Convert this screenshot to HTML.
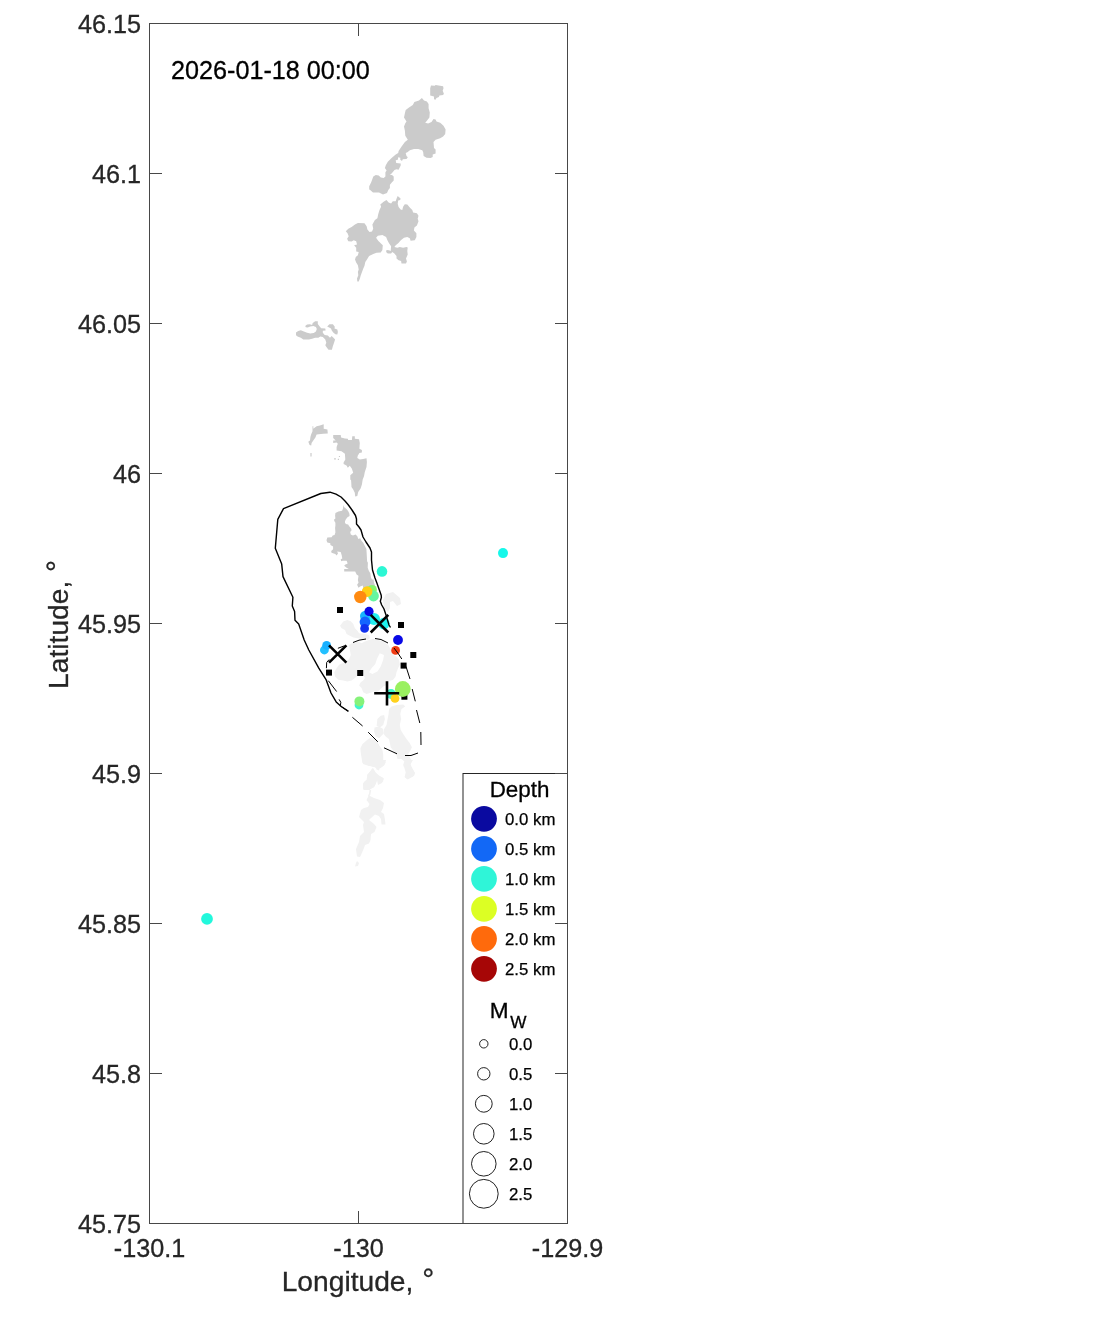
<!DOCTYPE html>
<html lang="en"><head><meta charset="utf-8"><title>Seismicity map</title>
<style>
html,body{margin:0;padding:0;background:#fff;}
body{width:1111px;height:1324px;overflow:hidden;}
svg{display:block;opacity:0.9999;will-change:transform;}
text{font-family:"Liberation Sans",Arial,Helvetica,sans-serif;}
.tl{font-size:25.2px;fill:#262626;stroke:#262626;stroke-width:0.3px;}
.al{font-size:28.2px;fill:#262626;stroke:#262626;stroke-width:0.3px;}
.lg{font-size:16.8px;fill:#000;stroke:#000;stroke-width:0.25px;}
.lt{font-size:22.4px;fill:#000;stroke:#000;stroke-width:0.3px;}
</style></head><body>
<svg width="1111" height="1324" viewBox="0 0 1111 1324">
<rect x="0" y="0" width="1111" height="1324" fill="#ffffff"/>
<g fill="#f1f1f1" stroke="none">
<path d="M386.0,594.0 L393.0,592.0 L400.0,598.0 L401.0,604.0 L397.0,606.0 L393.0,601.0 L390.0,602.0 L390.0,608.0 L388.0,612.0 L384.0,608.0 L383.0,600.0Z"/>
<path d="M340.0,625.8 L343.3,621.6 L347.4,620.0 L350.8,621.2 L353.3,624.1 L354.9,628.3 L357.4,630.8 L359.1,633.3 L364.9,634.1 L369.0,634.9 L369.9,638.2 L367.4,639.9 L363.2,639.1 L357.4,638.2 L353.3,637.4 L349.9,635.8 L346.6,634.1 L345.0,629.9 L341.6,628.3Z"/>
<path d="M349.1,644.9 L351.6,643.2 L354.9,642.4 L358.2,641.6 L361.6,643.2 L364.9,641.6 L369.0,639.9 L373.2,639.1 L378.2,639.9 L383.2,641.6 L388.2,644.9 L390.6,649.0 L393.1,654.9 L396.5,656.5 L399.0,659.8 L399.8,664.8 L398.1,668.2 L396.5,672.3 L395.6,676.5 L393.1,679.8 L388.2,681.5 L387.3,684.8 L383.2,686.4 L379.8,689.8 L376.5,692.3 L374.0,691.4 L369.9,693.1 L366.6,693.9 L363.2,692.3 L361.6,688.1 L359.1,685.6 L360.7,682.3 L363.2,680.6 L364.9,678.1 L363.2,674.8 L357.4,675.6 L354.9,678.1 L351.6,680.6 L347.4,681.5 L343.3,680.6 L338.3,679.8 L335.0,676.5 L334.2,672.3 L336.6,668.2 L339.1,664.8 L342.5,663.2 L346.6,661.5 L349.1,659.0 L350.8,654.9 L349.9,649.9Z"/>
<path d="M389.0,709.1 L391.5,706.6 L396.5,705.0 L403.2,704.5 L405.2,706.6 L401.5,709.1 L400.3,714.1 L401.1,719.1 L399.8,724.9 L400.7,729.9 L403.2,734.0 L406.5,739.0 L409.8,743.2 L411.9,747.3 L409.8,751.5 L408.2,754.0 L409.8,757.3 L411.5,760.6 L410.6,764.8 L412.7,768.9 L414.8,773.1 L413.1,776.4 L408.2,779.3 L404.8,777.2 L405.7,772.3 L404.4,768.1 L403.2,764.8 L404.4,761.5 L401.5,759.0 L397.4,759.0 L396.5,754.8 L394.0,751.5 L390.7,747.3 L389.9,743.2 L389.0,739.0 L385.7,736.5 L383.2,733.2 L384.1,729.0 L386.6,724.9 L387.4,719.9 L388.6,714.1Z"/>
<path d="M377.4,719.1 L380.7,715.8 L384.1,714.9 L384.9,719.1 L383.2,724.9 L379.9,727.4 L376.6,725.7Z"/>
<path d="M374.5,727.4 L379.1,726.6 L383.2,729.0 L383.2,734.0 L379.1,738.2 L375.8,736.5 L374.1,731.5Z"/>
<path d="M360.4,748.2 L362.5,744.0 L367.4,739.8 L370.8,737.4 L374.1,739.0 L377.4,742.3 L379.9,746.5 L382.4,749.8 L383.2,754.8 L383.2,760.6 L385.7,762.3 L384.1,765.6 L380.7,768.1 L377.4,768.9 L374.9,767.3 L371.6,766.4 L366.6,764.8 L362.5,763.1 L361.6,758.1 L360.8,753.1Z"/>
<path d="M372.4,768.1 L374.9,772.3 L379.1,775.6 L383.2,778.1 L383.2,781.4 L379.9,782.2 L377.4,779.7 L375.8,783.9 L374.1,787.2 L370.8,788.9 L366.6,789.7 L363.3,788.9 L363.3,783.1 L366.6,779.7 L367.4,774.7 L370.8,770.6Z"/>
<path d="M362.0,760.0 L386.0,760.0 L385.0,764.0 L380.0,767.0 L379.0,770.5 L376.5,769.5 L375.5,766.5 L369.0,766.0 L363.0,764.0Z"/>
<path d="M373.0,768.0 L376.0,773.0 L379.0,776.0 L384.0,778.5 L382.0,783.0 L378.0,785.0 L377.0,780.0 L374.0,779.0 L372.0,785.0 L370.0,790.0 L363.5,790.0 L363.0,784.0 L365.0,781.0 L369.0,779.0 L367.0,775.0 L370.0,772.0Z"/>
<path d="M369.0,795.5 L374.0,798.0 L380.0,800.0 L384.0,803.0 L383.0,808.0 L381.0,812.0 L384.0,814.0 L385.0,820.0 L385.5,824.5 L381.5,824.5 L381.0,819.0 L379.0,816.0 L375.0,814.5 L371.0,818.0 L369.0,820.0 L374.0,824.0 L376.5,827.0 L374.5,832.0 L371.0,834.0 L370.5,840.0 L369.0,843.5 L365.0,845.0 L364.0,848.0 L361.0,855.0 L360.0,857.0 L357.0,856.5 L356.0,849.0 L359.0,842.0 L360.0,836.0 L364.0,832.0 L363.0,825.0 L364.0,822.0 L361.0,819.0 L359.0,817.0 L361.0,810.0 L364.0,808.0 L368.0,807.0 L369.5,804.0 L366.5,800.0 L368.0,797.0Z"/>
<path d="M357.0,861.0 L359.0,863.0 L358.0,866.0 L355.0,866.5 L356.0,863.0Z"/>
<path d="M405.0,760.0 L413.0,760.0 L410.0,765.0 L413.0,770.0 L415.0,773.0 L414.0,776.0 L410.0,777.0 L407.5,779.5 L404.5,777.0 L406.0,773.0 L406.0,768.0 L403.5,766.0Z"/>
<path d="M369.5,789.9 L371.2,789.9 L370.3,794.9 L369.1,796.6 L367.8,796.6 L369.1,793.3Z"/>
</g>
<g fill="#fff" stroke="none">
<path d="M379.8,653.2 L384.0,654.9 L383.2,659.8 L380.7,666.5 L377.4,671.5 L372.4,674.0 L369.0,672.3 L371.5,668.2 L375.3,664.0 L376.9,659.0Z"/>
</g>
<g fill="#cbcbcb" stroke="none">
<path d="M431.0,85.4 L434.8,85.8 L435.6,85.0 L443.1,86.2 L443.5,88.3 L442.7,90.8 L443.9,93.7 L443.1,95.0 L439.4,95.4 L438.9,97.0 L436.5,97.9 L435.2,99.9 L434.0,99.1 L434.0,96.6 L430.2,95.4 L430.2,88.3Z"/>
<path d="M421.9,98.1 L424.0,100.4 L426.9,101.6 L428.6,104.1 L428.6,108.2 L429.8,112.4 L429.4,117.4 L426.9,120.7 L425.2,122.8 L428.1,123.6 L431.5,122.0 L433.5,119.0 L435.6,119.5 L436.5,121.5 L440.2,122.8 L443.5,125.7 L445.6,129.4 L445.2,134.0 L443.1,136.5 L440.2,138.2 L435.6,139.8 L433.5,141.9 L434.0,148.1 L435.6,149.4 L435.6,153.5 L432.7,154.4 L432.7,156.9 L430.6,158.1 L426.5,157.7 L423.6,156.0 L423.2,152.3 L422.3,150.2 L418.2,149.0 L414.0,149.0 L409.9,150.2 L407.4,152.3 L405.7,153.1 L406.5,156.0 L407.8,157.3 L406.5,158.9 L402.8,159.3 L402.0,161.0 L400.3,159.8 L400.3,157.7 L398.2,157.3 L397.8,159.8 L395.7,160.2 L396.2,163.1 L400.7,163.5 L400.7,165.6 L398.6,169.7 L396.6,169.3 L394.5,170.1 L391.6,173.5 L389.9,174.7 L392.0,175.1 L393.7,176.4 L393.7,180.5 L392.0,182.2 L389.9,184.7 L389.9,188.0 L388.3,190.0 L387.0,193.0 L383.0,194.4 L379.0,192.4 L373.0,192.4 L369.6,189.5 L369.2,190.0 L369.2,186.3 L371.2,182.2 L373.3,176.4 L375.8,175.1 L378.7,175.5 L380.8,177.6 L383.7,178.0 L385.4,176.4 L385.4,172.2 L386.6,170.6 L384.9,168.1 L385.8,165.2 L387.8,161.8 L391.6,158.1 L395.7,154.4 L398.2,153.1 L398.6,151.0 L401.6,146.5 L404.9,141.9 L407.8,139.8 L405.3,135.7 L404.9,130.7 L404.0,126.5 L405.3,123.2 L406.5,121.5 L404.0,117.4 L404.9,113.2 L405.7,109.9 L409.0,107.4 L412.8,104.9 L414.4,102.0 L419.0,100.4Z"/>
<path d="M397.7,195.9 L400.6,198.4 L400.2,200.0 L398.2,200.5 L397.7,203.8 L398.6,207.1 L400.6,209.6 L402.3,210.0 L403.1,206.7 L404.8,204.2 L407.3,204.6 L410.2,207.9 L412.3,210.0 L413.1,212.5 L416.9,213.3 L418.5,215.8 L417.7,218.7 L418.5,221.2 L416.9,225.4 L414.4,227.5 L413.9,230.4 L416.4,233.3 L416.4,237.0 L414.8,240.3 L410.6,240.8 L409.8,238.3 L407.3,237.0 L404.0,237.8 L401.1,239.9 L398.2,243.2 L395.7,245.3 L394.4,247.0 L397.3,247.8 L399.8,247.0 L403.1,247.8 L406.5,247.0 L407.7,247.4 L407.3,251.1 L407.7,254.5 L406.0,258.6 L406.9,261.5 L406.0,263.6 L401.5,263.6 L401.1,261.1 L398.6,260.3 L396.5,258.6 L396.5,256.1 L394.4,253.6 L392.3,252.0 L391.1,253.6 L387.8,253.6 L386.1,252.0 L386.5,249.9 L389.0,250.3 L390.7,251.1 L391.1,246.2 L389.0,243.2 L387.4,240.3 L386.1,237.0 L382.4,234.9 L377.8,235.8 L376.1,237.8 L378.2,240.8 L380.7,243.2 L382.8,245.3 L382.4,249.9 L380.7,252.4 L376.6,252.8 L373.2,254.0 L369.1,256.1 L367.0,259.5 L365.3,261.9 L364.5,265.7 L363.3,268.6 L362.0,271.9 L360.8,275.2 L359.9,278.6 L358.7,281.5 L357.3,281.5 L357.0,278.6 L358.3,275.2 L357.9,271.9 L358.7,269.4 L357.9,265.3 L356.2,262.4 L355.0,259.5 L355.8,257.0 L357.9,255.3 L358.7,252.0 L356.2,251.6 L356.2,247.8 L354.1,245.3 L357.0,244.5 L356.2,241.2 L353.7,240.3 L351.6,241.6 L348.3,241.2 L347.1,238.7 L348.7,236.2 L347.5,233.3 L345.8,231.2 L348.3,228.7 L351.6,227.0 L355.0,224.6 L357.9,222.9 L364.5,223.3 L366.6,226.2 L367.4,229.5 L369.5,232.0 L372.0,231.6 L373.2,228.7 L372.4,224.6 L374.9,220.0 L377.4,218.3 L378.2,214.2 L379.5,210.0 L381.1,206.7 L380.3,204.6 L383.6,201.7 L386.5,200.0 L388.6,202.5 L391.1,203.4 L392.8,201.3 L395.7,201.3 L396.5,198.8Z"/>
<path d="M296.0,332.4 L298.2,331.1 L300.8,330.2 L303.9,331.4 L307.1,332.7 L310.2,333.6 L313.7,333.0 L315.9,331.4 L316.8,328.9 L315.9,327.0 L313.4,326.1 L310.2,326.4 L307.7,327.6 L305.8,327.3 L305.2,326.1 L307.1,324.5 L309.9,324.2 L312.1,325.1 L312.7,322.9 L315.2,321.3 L317.8,321.3 L317.8,323.9 L319.7,326.4 L321.2,328.3 L325.3,328.6 L325.6,330.5 L322.8,330.8 L322.8,332.7 L324.7,334.9 L327.8,335.5 L330.0,337.7 L331.6,336.1 L333.5,337.7 L335.1,339.6 L333.8,343.4 L332.9,345.9 L331.9,349.7 L328.5,349.7 L326.6,347.2 L325.3,345.3 L326.3,342.8 L325.3,339.6 L322.8,337.1 L320.3,336.5 L318.4,337.7 L315.2,337.7 L312.1,338.7 L308.9,339.6 L303.3,339.6 L300.8,337.7 L297.6,336.5 L296.0,335.2Z"/>
<path d="M327.2,326.4 L329.4,324.2 L332.9,324.2 L334.8,326.7 L334.5,328.6 L337.3,329.5 L337.9,332.1 L337.3,334.6 L335.4,334.3 L333.5,332.7 L331.9,330.8 L331.0,328.6 L329.1,327.6Z"/>
<path d="M312.5,426.3 L313.3,426.3 L313.3,428.8 L316.6,426.3 L319.9,425.5 L323.7,424.2 L323.7,428.8 L327.4,429.6 L327.8,433.4 L323.3,433.8 L318.7,434.2 L316.6,434.6 L315.4,437.5 L313.3,440.4 L311.6,442.9 L311.2,445.4 L309.6,445.0 L308.3,441.7 L310.0,440.4 L310.4,437.1 L311.2,434.2 L312.5,431.3Z"/>
<path d="M310.4,452.9 L311.6,452.9 L311.6,456.6 L310.4,456.6Z"/>
<path d="M334.1,458.3 L335.9,458.3 L335.9,459.5 L334.1,459.5Z"/>
<path d="M337.8,458.7 L339.0,458.7 L339.0,460.0 L337.8,460.0Z"/>
<path d="M338.9,456.1 L340.0,456.1 L340.0,457.0 L338.9,457.0Z"/>
<path d="M333.2,435.0 L340.7,435.0 L341.1,437.5 L344.9,438.4 L347.8,438.8 L348.2,440.0 L351.9,440.0 L352.3,436.3 L354.8,436.3 L354.8,438.8 L359.0,439.2 L359.8,442.9 L359.4,448.7 L361.9,450.0 L361.9,452.5 L359.4,452.9 L357.7,455.8 L357.3,457.9 L359.8,459.5 L363.1,459.1 L366.5,458.3 L366.9,462.0 L366.5,467.0 L364.8,472.0 L364.0,476.2 L362.7,479.5 L361.9,484.5 L360.6,488.6 L358.2,491.9 L357.3,496.1 L355.2,496.5 L354.8,492.8 L353.2,489.5 L351.5,487.0 L351.1,480.3 L350.3,479.5 L350.3,475.3 L353.2,472.8 L351.9,468.7 L349.8,465.8 L347.8,467.8 L346.5,465.4 L343.6,464.1 L343.6,462.4 L345.3,459.5 L344.9,453.7 L341.5,451.2 L336.6,450.4 L336.6,447.1 L337.8,443.8 L336.6,442.5 L333.2,442.9 L333.2,440.4 L335.7,440.4 L333.2,437.9Z"/>
<path d="M343.3,505.1 L344.0,507.0 L347.0,509.5 L348.4,511.6 L349.4,513.8 L349.6,515.9 L347.5,517.3 L345.9,519.2 L345.0,521.3 L345.0,522.7 L345.9,524.0 L348.1,524.6 L349.4,526.5 L351.1,528.6 L351.6,530.2 L350.2,531.9 L350.8,534.6 L352.9,535.6 L355.6,534.6 L357.3,536.2 L358.3,538.9 L360.2,538.3 L361.6,541.0 L363.2,542.7 L364.8,545.9 L366.4,549.1 L366.7,554.0 L367.1,561.2 L367.9,562.8 L367.7,567.7 L368.7,570.4 L370.4,573.6 L370.9,577.4 L372.0,579.6 L373.6,579.6 L373.9,582.3 L375.0,585.5 L375.8,588.2 L376.0,592.0 L369.8,595.2 L363.9,592.0 L362.8,585.5 L360.1,586.6 L358.5,587.7 L357.1,584.7 L358.5,582.8 L357.9,580.1 L358.5,575.8 L356.6,574.4 L355.2,571.5 L344.2,571.5 L344.2,569.0 L348.8,569.0 L346.6,567.7 L344.2,565.8 L345.0,564.7 L347.7,563.4 L346.6,560.7 L342.8,560.7 L341.2,561.2 L340.7,559.3 L342.3,558.5 L341.7,555.3 L340.7,552.0 L337.2,551.5 L338.0,553.6 L336.6,555.5 L335.3,553.9 L331.5,552.8 L331.2,550.9 L333.1,549.3 L333.1,546.6 L330.4,545.0 L330.3,543.2 L327.3,542.4 L326.5,540.2 L327.3,537.5 L331.6,537.3 L332.7,535.6 L334.6,535.1 L335.4,532.4 L335.1,528.1 L335.4,525.4 L335.4,522.7 L334.3,521.1 L334.1,519.4 L335.4,518.4 L335.1,515.7 L335.4,513.0 L338.4,511.6 L342.1,510.8 L343.0,508.6Z"/>
</g>
<g fill="#000">
<rect x="337.0" y="607.0" width="6" height="6"/>
<rect x="398.0" y="622.0" width="6" height="6"/>
<rect x="410.3" y="652.0" width="6" height="6"/>
<rect x="400.6" y="662.6" width="6" height="6"/>
<rect x="326.0" y="669.6" width="6" height="6"/>
<rect x="357.2" y="670.0" width="6" height="6"/>
<rect x="401.4" y="693.7" width="6" height="6"/>
</g>
<circle cx="503.0" cy="553.1" r="5.0" fill="#16f8ea"/>
<circle cx="207.0" cy="918.9" r="5.9" fill="#22f8dc"/>
<circle cx="382.0" cy="571.4" r="5.3" fill="#2cf7d4"/>
<circle cx="372.0" cy="589.8" r="4.9" fill="#86f66e"/>
<circle cx="373.5" cy="596.0" r="5.4" fill="#66f5a0"/>
<circle cx="367.1" cy="591.6" r="5.3" fill="#ffce14"/>
<circle cx="360.3" cy="597.0" r="6.2" fill="#ff8a10"/>
<circle cx="374.0" cy="619.0" r="6.0" fill="#22f0ee"/>
<circle cx="383.8" cy="623.6" r="5.8" fill="#1ef2ee"/>
<circle cx="365.0" cy="616.0" r="5.0" fill="#18b4ff"/>
<circle cx="369.0" cy="611.4" r="4.6" fill="#0808e6"/>
<circle cx="365.0" cy="622.0" r="5.4" fill="#1464ff"/>
<circle cx="364.6" cy="628.4" r="4.4" fill="#1030ee"/>
<circle cx="398.0" cy="640.0" r="4.9" fill="#0808e6"/>
<circle cx="395.6" cy="650.4" r="4.4" fill="#f03a12"/>
<circle cx="324.4" cy="650.0" r="4.4" fill="#22c0ff"/>
<circle cx="326.6" cy="645.4" r="4.4" fill="#18b0ff"/>
<circle cx="391.0" cy="694.0" r="5.0" fill="#3ff5c8"/>
<circle cx="402.8" cy="689.0" r="7.9" fill="#9af060"/>
<circle cx="395.0" cy="698.4" r="4.4" fill="#ffd21e"/>
<circle cx="359.0" cy="705.0" r="4.4" fill="#3ff5d0"/>
<circle cx="359.4" cy="701.4" r="5.0" fill="#86f27a"/>
<path d="M348.5,711.4 L341.2,706.5 L336.2,701.9 L331.0,693.0 L326.2,679.9 L318.8,668.2 L308.8,650.0 L304.2,640.0 L298.7,623.9 L295.0,620.2 L294.6,611.5 L292.3,606.0 L292.9,597.3 L283.0,576.6 L281.7,564.1 L275.3,548.3 L277.8,519.4 L283.5,508.6 L320.8,493.5 L330.0,492.2 L336.0,494.2 L341.0,497.0 L345.0,501.0 L348.0,504.5 L352.0,510.0 L355.5,515.5 L356.5,519.0 L356.5,524.0 L359.0,527.0 L361.0,530.0 L363.0,537.0 L366.0,542.0 L370.0,548.0 L371.5,552.0 L371.5,560.0 L372.5,570.0 L375.0,578.0 L376.8,582.8 L381.2,595.2 L381.4,597.4 L380.3,601.2 L381.7,605.0 L384.0,609.0 L386.0,615.0 L389.0,625.0 L390.5,627.5" fill="none" stroke="#000" stroke-width="1.4" stroke-linejoin="round"/>
<path d="M337.9,648.3 L344.5,645.8" fill="none" stroke="#000" stroke-width="1.0" stroke-linejoin="round"/>
<path d="M353.0,642.5 L359.0,640.2 L366.0,639.0" fill="none" stroke="#000" stroke-width="1.0" stroke-linejoin="round"/>
<path d="M375.0,638.5 L381.0,639.5 L388.0,643.0" fill="none" stroke="#000" stroke-width="1.0" stroke-linejoin="round"/>
<path d="M394.0,648.0 L398.5,654.0 L401.8,659.0" fill="none" stroke="#000" stroke-width="1.0" stroke-linejoin="round"/>
<path d="M406.0,666.5 L410.0,679.0" fill="none" stroke="#000" stroke-width="1.0" stroke-linejoin="round"/>
<path d="M412.2,689.0 L415.3,701.3" fill="none" stroke="#000" stroke-width="1.0" stroke-linejoin="round"/>
<path d="M416.5,710.0 L419.8,723.0" fill="none" stroke="#000" stroke-width="1.0" stroke-linejoin="round"/>
<path d="M420.8,732.0 L421.0,745.0" fill="none" stroke="#000" stroke-width="1.0" stroke-linejoin="round"/>
<path d="M418.0,753.0 L411.0,755.5 L405.0,755.5" fill="none" stroke="#000" stroke-width="1.0" stroke-linejoin="round"/>
<path d="M397.0,753.8 L384.0,747.8" fill="none" stroke="#000" stroke-width="1.0" stroke-linejoin="round"/>
<path d="M377.8,741.8 L368.2,732.2" fill="none" stroke="#000" stroke-width="1.0" stroke-linejoin="round"/>
<path d="M362.6,726.0 L352.4,717.3" fill="none" stroke="#000" stroke-width="1.0" stroke-linejoin="round"/>
<path d="M347.9,711.0 L341.2,706.5" fill="none" stroke="#000" stroke-width="1.0" stroke-linejoin="round"/>
<path d="M340.4,705.6 L340.8,702.3 L339.1,699.4" fill="none" stroke="#000" stroke-width="1.0" stroke-linejoin="round"/>
<path d="M336.6,691.5 L328.3,680.7" fill="none" stroke="#000" stroke-width="1.0" stroke-linejoin="round"/>
<path d="M326.4,668.2 L326.7,662.4 L329.2,659.5" fill="none" stroke="#000" stroke-width="1.0" stroke-linejoin="round"/>
<path d="M370.7,614.9 L388.3,632.5 M370.7,632.5 L388.3,614.9" stroke="#000" stroke-width="2.6" fill="none"/>
<path d="M329.0,645.3 L346.4,662.7 M329.0,662.7 L346.4,645.3" stroke="#000" stroke-width="2.6" fill="none"/>
<path d="M374.2,693.3 L399.2,693.3 M387,681.2 L387,705.6" stroke="#000" stroke-width="2.6" fill="none"/>
<rect x="463.0" y="773.5" width="104.5" height="450.0" fill="#fff" stroke="#262626" stroke-width="1"/>
<g stroke="#484848" stroke-width="1" fill="none" shape-rendering="crispEdges">
<rect x="149.5" y="23.5" width="418.0" height="1200.0"/>
<path d="M149.5,173.5 h12.5 M567.5,173.5 h-12.5"/>
<path d="M149.5,323.5 h12.5 M567.5,323.5 h-12.5"/>
<path d="M149.5,473.5 h12.5 M567.5,473.5 h-12.5"/>
<path d="M149.5,623.5 h12.5 M567.5,623.5 h-12.5"/>
<path d="M149.5,773.5 h12.5 M567.5,773.5 h-12.5"/>
<path d="M149.5,923.5 h12.5 M567.5,923.5 h-12.5"/>
<path d="M149.5,1073.5 h12.5 M567.5,1073.5 h-12.5"/>
<path d="M358.5,1223.5 v-12.5 M358.5,23.5 v12.5"/>
</g>
<text class="tl" x="141" y="33.1" text-anchor="end">46.15</text>
<text class="tl" x="141" y="183.1" text-anchor="end">46.1</text>
<text class="tl" x="141" y="333.1" text-anchor="end">46.05</text>
<text class="tl" x="141" y="483.1" text-anchor="end">46</text>
<text class="tl" x="141" y="633.1" text-anchor="end">45.95</text>
<text class="tl" x="141" y="783.1" text-anchor="end">45.9</text>
<text class="tl" x="141" y="933.1" text-anchor="end">45.85</text>
<text class="tl" x="141" y="1083.1" text-anchor="end">45.8</text>
<text class="tl" x="141" y="1233.1" text-anchor="end">45.75</text>
<text class="tl" x="149.5" y="1257.3" text-anchor="middle">-130.1</text>
<text class="tl" x="358.5" y="1257.3" text-anchor="middle">-130</text>
<text class="tl" x="567.5" y="1257.3" text-anchor="middle">-129.9</text>
<text class="al" x="281.7" y="1290.8">Longitude, <tspan dx="1.0" dy="-1.8" style="font-size:30px">°</tspan></text>
<text class="al" transform="translate(68.4,688.9) rotate(-90)">Latitude, <tspan dx="1.0" dy="-1.8" style="font-size:30px">°</tspan></text>
<text x="171" y="78.6" style="font-size:25.2px;fill:#000;stroke:#000;stroke-width:0.3px">2026-01-18 00:00</text>
<text class="lt" x="489.7" y="796.7">Depth</text>
<circle cx="484" cy="818.8" r="12.9" fill="#0a0aa0"/>
<text class="lg" x="505" y="824.5">0.0 km</text>
<circle cx="484" cy="848.8" r="12.9" fill="#1268f6"/>
<text class="lg" x="505" y="854.5">0.5 km</text>
<circle cx="484" cy="878.8" r="12.9" fill="#2ff5d8"/>
<text class="lg" x="505" y="884.5">1.0 km</text>
<circle cx="484" cy="908.8" r="12.9" fill="#dcff24"/>
<text class="lg" x="505" y="914.5">1.5 km</text>
<circle cx="484" cy="938.8" r="12.9" fill="#ff6a0c"/>
<text class="lg" x="505" y="944.5">2.0 km</text>
<circle cx="484" cy="968.8" r="12.9" fill="#a60606"/>
<text class="lg" x="505" y="974.5">2.5 km</text>
<text class="lt" x="489.8" y="1017.8" style="font-size:22.6px">M<tspan dx="1.5" dy="10.4" style="font-size:17.2px">W</tspan></text>
<circle cx="483.8" cy="1043.8" r="4.2" fill="#fff" stroke="#222" stroke-width="1"/>
<text class="lg" x="509" y="1049.5">0.0</text>
<circle cx="483.8" cy="1073.8" r="6.2" fill="#fff" stroke="#222" stroke-width="1"/>
<text class="lg" x="509" y="1079.5">0.5</text>
<circle cx="483.8" cy="1103.8" r="8.4" fill="#fff" stroke="#222" stroke-width="1"/>
<text class="lg" x="509" y="1109.5">1.0</text>
<circle cx="483.8" cy="1133.8" r="10.3" fill="#fff" stroke="#222" stroke-width="1"/>
<text class="lg" x="509" y="1139.5">1.5</text>
<circle cx="483.8" cy="1163.8" r="12.3" fill="#fff" stroke="#222" stroke-width="1"/>
<text class="lg" x="509" y="1169.5">2.0</text>
<circle cx="483.8" cy="1193.8" r="14.4" fill="#fff" stroke="#222" stroke-width="1"/>
<text class="lg" x="509" y="1199.5">2.5</text>
</svg>
</body></html>
